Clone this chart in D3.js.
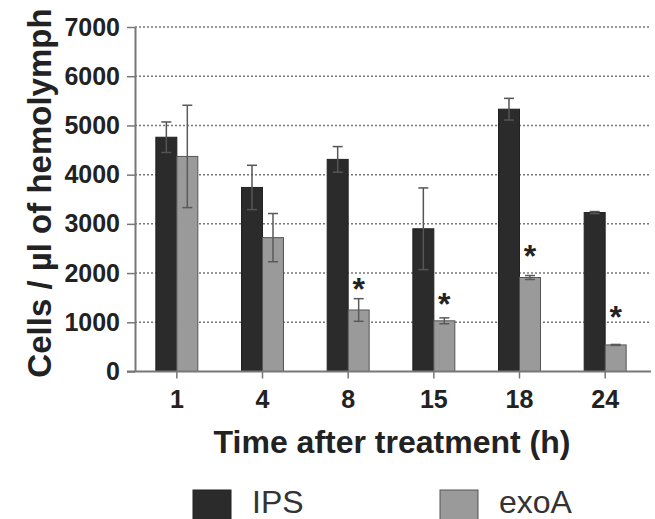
<!DOCTYPE html>
<meta charset="utf-8">
<style>
  body { margin: 0; background: #fff; }
  svg { font-family: "Liberation Sans", Arial, sans-serif; }
  .axis .domain { stroke: #777; stroke-width: 2; }
  .axis line { stroke: #777; stroke-width: 1.5; }
  .axis text { fill: #222; font-weight: bold; font-size: 25px; }
</style>
<svg width="655" height="519"></svg>
<script src="https://d3js.org/d3.v7.min.js"></script>
<script>
  // data
  var times = ["1", "4", "8", "15", "18", "24"];
  var series = ["IPS", "exoA"];
  var ipsMean = [4760, 3740, 4310, 2900, 5330, 3230];
  var ipsErr = [310, 450, 260, 830, 220, 20];
  var exoMean = [4370, 2720, 1250, 1030, 1910, 540];
  var exoErr = [1040, 490, 230, 60, 40, 10];
  // asterisk height (in y units) for significant exoA bars
  var starAt = [null, null, 1810, 1520, 2480, 1240];
  var yTicks = [0, 1000, 2000, 3000, 4000, 5000, 6000, 7000];

  var svg = d3.select("svg");
  var fills = { IPS: "#2b2b2b", exoA: "#9a9a9a" };
  var strokes = { IPS: "#222", exoA: "#555" };

  var x = d3.scaleBand()
    .domain(times)
    .range([134, 648])
    .paddingInner(0.51)
    .paddingOuter(0.255);

  var x1 = d3.scaleBand()
    .domain(series)
    .range([0, x.bandwidth()]);

  var y = d3.scaleLinear()
    .domain([0, 7000])
    .range([371.5, 27]);

  var rows = times.map(function(t, i) {
    return {
      time: t,
      star: starAt[i],
      vals: [
        { key: "IPS", mean: ipsMean[i], err: ipsErr[i] },
        { key: "exoA", mean: exoMean[i], err: exoErr[i] }
      ]
    };
  });

  // dotted grid lines
  svg.append("g")
    .selectAll("line")
    .data(yTicks.filter(function(d) { return d > 0; }))
    .enter().append("line")
    .attr("x1", 135).attr("x2", 651)
    .attr("y1", function(d) { return y(d); })
    .attr("y2", function(d) { return y(d); })
    .attr("stroke", "#777")
    .attr("stroke-width", 1.5)
    .attr("stroke-dasharray", "2,2");

  // bars
  var groups = svg.append("g")
    .selectAll("g")
    .data(rows)
    .enter().append("g")
    .attr("transform", function(d) { return "translate(" + x(d.time) + ",0)"; });

  groups.selectAll("rect")
    .data(function(d) { return d.vals; })
    .enter().append("rect")
    .attr("x", function(d) { return x1(d.key); })
    .attr("width", x1.bandwidth())
    .attr("y", function(d) { return y(d.mean); })
    .attr("height", function(d) { return y(0) - y(d.mean); })
    .attr("fill", function(d) { return fills[d.key]; })
    .attr("stroke", function(d) { return strokes[d.key]; })
    .attr("stroke-width", 1);

  // error bars (symmetric)
  var eb = groups.selectAll(".err")
    .data(function(d) { return d.vals; })
    .enter().append("g")
    .attr("class", "err")
    .attr("stroke", function(d) { return d.key === "IPS" ? "#555" : "#5a5a5a"; })
    .attr("stroke-width", 1.5);

  eb.append("line")
    .attr("x1", function(d) { return x1(d.key) + x1.bandwidth() / 2; })
    .attr("x2", function(d) { return x1(d.key) + x1.bandwidth() / 2; })
    .attr("y1", function(d) { return y(d.mean - d.err); })
    .attr("y2", function(d) { return y(d.mean + d.err); });

  [1, -1].forEach(function(s) {
    eb.append("line")
      .attr("x1", function(d) { return x1(d.key) + x1.bandwidth() / 2 - 5; })
      .attr("x2", function(d) { return x1(d.key) + x1.bandwidth() / 2 + 5; })
      .attr("y1", function(d) { return y(d.mean + s * d.err); })
      .attr("y2", function(d) { return y(d.mean + s * d.err); });
  });

  // significance asterisks over exoA
  groups.filter(function(d) { return d.star != null; })
    .append("text")
    .attr("x", x1("exoA") + x1.bandwidth() / 2)
    .attr("y", function(d) { return y(d.star) + 18; })
    .attr("text-anchor", "middle")
    .attr("font-size", 32)
    .attr("font-weight", "bold")
    .attr("fill", "#222")
    .text("*");

  // axes
  svg.append("g")
    .attr("class", "axis")
    .attr("transform", "translate(0," + y(0) + ")")
    .call(d3.axisBottom(x).tickSize(7).tickSizeOuter(0).tickPadding(12))
    .select(".domain").attr("d", "M127,0H651");

  svg.append("g")
    .attr("class", "axis")
    .attr("transform", "translate(135,0)")
    .call(d3.axisLeft(y).tickValues(yTicks).tickFormat(d3.format("d"))
      .tickSize(8).tickSizeOuter(0).tickPadding(7));

  // axis titles
  svg.append("text")
    .attr("x", 392)
    .attr("y", 453)
    .attr("text-anchor", "middle")
    .attr("font-size", 32)
    .attr("font-weight", "bold")
    .attr("fill", "#222")
    .text("Time after treatment (h)");

  svg.append("text")
    .attr("transform", "translate(51,193) rotate(-90)")
    .attr("text-anchor", "middle")
    .attr("font-size", 33)
    .attr("font-weight", "bold")
    .attr("fill", "#222")
    .text("Cells / \u00b5l of hemolymph");

  // legend
  var legend = svg.append("g")
    .selectAll("g")
    .data(series)
    .enter().append("g")
    .attr("transform", function(d, i) { return "translate(" + (193 + i * 247) + ",490)"; });

  legend.append("rect")
    .attr("width", 38)
    .attr("height", 38)
    .attr("fill", function(d) { return fills[d]; })
    .attr("stroke", function(d) { return strokes[d]; });

  legend.append("text")
    .attr("x", 59)
    .attr("y", 23)
    .attr("font-size", 32)
    .attr("fill", "#333")
    .text(function(d) { return d; });
</script>
